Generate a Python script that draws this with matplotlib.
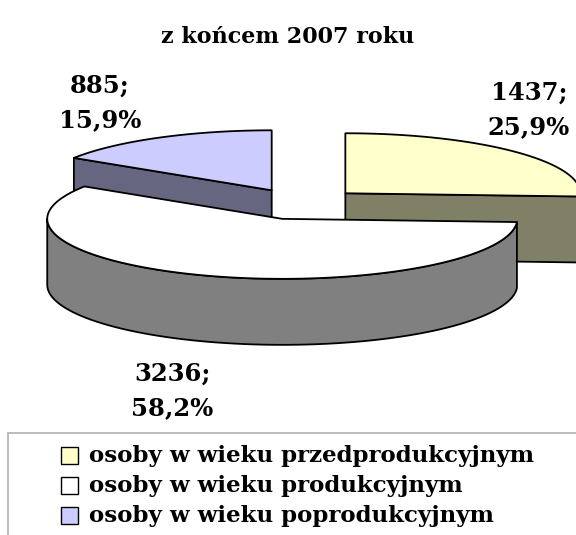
import numpy as np
import matplotlib
matplotlib.use('Agg')
import matplotlib.pyplot as plt
from matplotlib.patches import Polygon, Rectangle

# Data
categories = ['osoby w wieku przedprodukcyjnym',
              'osoby w wieku produkcyjnym',
              'osoby w wieku poprodukcyjnym']
values = [1437, 3236, 885]
top_colors = ['#FFFFCC', '#FFFFFF', '#CCCCFF']
side_colors = ['#808066', '#808080', '#666680']
title = 'z końcem 2007 roku'

# label anchor positions (pixels, y down)
label_pos = [(529, 110), (172, 391), (100, 103)]

plt.rcParams['font.family'] = ['DejaVu Serif']
plt.rcParams['font.weight'] = 'bold'

fig = plt.figure(figsize=(5.76, 5.35), dpi=100)
ax = fig.add_axes([0, 0, 1, 1])
ax.set_xlim(0, 576)
ax.set_ylim(535, 0)
ax.axis('off')

# 3D pie geometry (pixel units)
cx, cy = 301, 204
rx, ry = 235, 60
depth = 66
explode = 0.26


def rim(sx, sy, t, dz=0):
    t = np.radians(t)
    return sx + rx * np.cos(t), sy - ry * np.sin(t) + dz


total = sum(values)
fracs = [v / total for v in values]

slices = []
start = 90.0
for i, f in enumerate(fracs):
    t1 = start
    t2 = start - f * 360
    start = t2
    b = np.radians((t1 + t2) / 2)
    sx = cx + explode * rx * np.cos(b)
    sy = cy - explode * ry * np.sin(b)
    slices.append((sy, i, t1, t2, sx))

# back to front
slices.sort()

for sy, i, t1, t2, sx in slices:
    ec = 'black'
    lw = 1.3
    # outer curved side (front half only)
    for k in range(-2, 2):
        lo = max(t2, -180 + 360 * k)
        hi = min(t1, 0 + 360 * k)
        if hi - lo > 0.01:
            ts = np.linspace(lo, hi, 80)
            topp = [rim(sx, sy, t) for t in ts]
            botp = [rim(sx, sy, t, depth) for t in ts[::-1]]
            ax.add_patch(Polygon(topp + botp, closed=True, fc=side_colors[i],
                                 ec=ec, lw=lw, joinstyle='round'))
    # radial faces
    for t, vis in [(t1, np.cos(np.radians(t1)) < -1e-6),
                   (t2, np.cos(np.radians(t2)) > 1e-6)]:
        if vis:
            px, py = rim(sx, sy, t)
            pts = [(sx, sy), (px, py), (px, py + depth), (sx, sy + depth)]
            ax.add_patch(Polygon(pts, closed=True, fc=side_colors[i],
                                 ec=ec, lw=lw, joinstyle='round'))
    # top face
    ts = np.linspace(t1, t2, 150)
    pts = [(sx, sy)] + [rim(sx, sy, t) for t in ts]
    ax.add_patch(Polygon(pts, closed=True, fc=top_colors[i],
                         ec=ec, lw=lw, joinstyle='round'))

# data labels
for i, v in enumerate(values):
    pct = f'{100 * fracs[i]:.1f}'.replace('.', ',')
    x, y = label_pos[i]
    ax.text(x, y, f'{v};\n{pct}%', ha='center', va='center',
            fontsize=17.5, fontweight='bold', linespacing=1.55)

ax.text(288, 37, title, ha='center', va='center', fontsize=16,
        fontweight='bold')

# legend box
ax.add_patch(Rectangle((8, 433), 600, 130, fc='white', ec='#B0B0B0',
                       lw=1.2, clip_on=False))
for i, name in enumerate(categories):
    yy = 455 + 30 * i
    ax.add_patch(Rectangle((61, yy - 8.5), 17, 17, fc=top_colors[i],
                           ec='black', lw=1.0))
    ax.text(89, yy + 1, name, ha='left', va='center', fontsize=16.5,
            fontweight='bold')

plt.savefig('out.png', dpi=100)
